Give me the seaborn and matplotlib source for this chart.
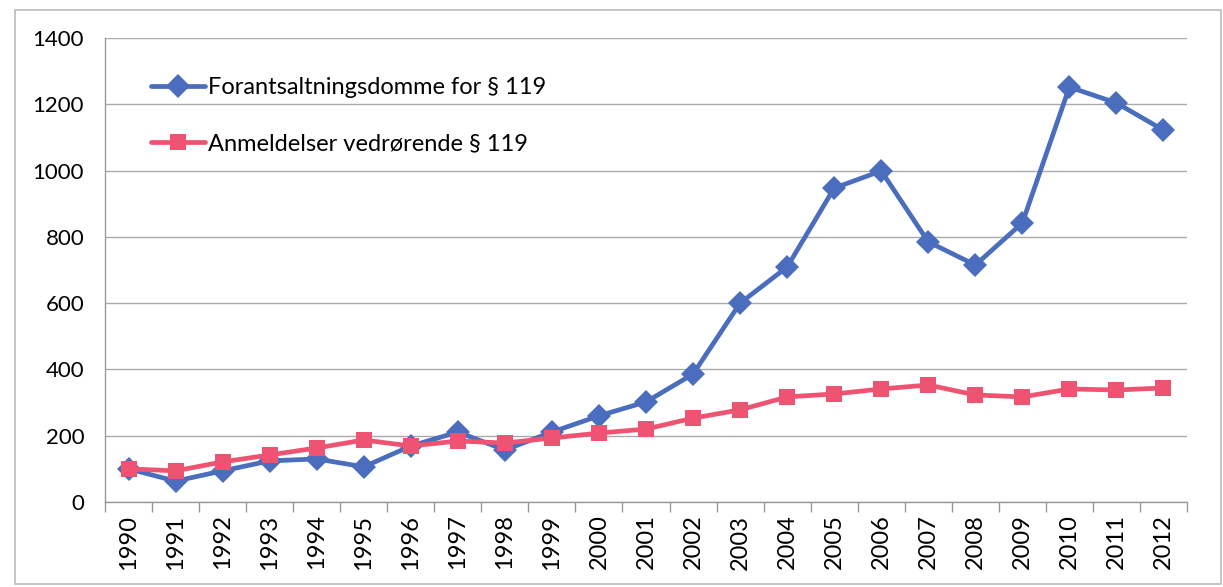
import numpy as np
import pandas as pd
import matplotlib
matplotlib.use("Agg")
import matplotlib.pyplot as plt
from matplotlib.patches import Rectangle
from matplotlib.ticker import FixedLocator
import seaborn as sns

years = [str(y) for y in range(1990, 2013)]
dommer = [100, 63, 94, 124, 130, 106, 169, 211, 157, 211, 260, 302, 386,
          600, 709, 947, 999, 785, 715, 842, 1252, 1204, 1122]
anmeldelser = [100, 94, 121, 142, 163, 187, 169, 184, 178, 193, 208, 220, 253,
               278, 317, 326, 341, 353, 323, 317, 341, 338, 344]
label_dom = "Forantsaltningsdomme for § 119"
label_anm = "Anmeldelser vedrørende § 119"

BLUE = "#4A6DBE"
RED = "#EE5472"

sns.set_theme(style="white")
plt.rcParams["font.family"] = ["Lato", "DejaVu Sans"]
plt.rcParams["text.color"] = "black"
plt.rcParams["xtick.color"] = "black"
plt.rcParams["ytick.color"] = "black"

df = pd.DataFrame({
    "pos": list(range(len(years))) * 2,
    "value": dommer + anmeldelser,
    "serie": [label_dom] * len(years) + [label_anm] * len(years),
})

fig = plt.figure(figsize=(12.23, 5.87), dpi=100)
ax = fig.add_axes([105 / 1223, 1 - 502 / 587, (1187 - 105) / 1223, (502 - 38) / 587])

sns.lineplot(data=df, x="pos", y="value", hue="serie", style="serie",
             palette={label_dom: BLUE, label_anm: RED},
             markers={label_dom: "D", label_anm: "s"},
             dashes=False, linewidth=3.4, markersize=12, markeredgewidth=0,
             ax=ax)

ax.set_xlim(-0.5, len(years) - 0.5)
ax.set_ylim(0, 1400)
ax.set_yticks(range(0, 1401, 200))
ax.set_xticks(range(len(years)))
ax.set_xticklabels(years, rotation=90, fontsize=17)
ax.tick_params(axis="y", labelsize=16, length=5, color="#999999", pad=10)
ax.tick_params(axis="x", which="major", length=0, pad=9)
ax.xaxis.set_minor_locator(FixedLocator(np.arange(-0.5, len(years), 1)))
ax.tick_params(axis="x", which="minor", length=7, color="#999999", bottom=True)
ax.set_xlabel("")
ax.set_ylabel("")
ax.yaxis.grid(True, color="#AAAAAA", linewidth=1)
for side in ["top", "right"]:
    ax.spines[side].set_visible(False)
for side in ["left", "bottom"]:
    ax.spines[side].set_color("#999999")
    ax.spines[side].set_linewidth(1)

leg = ax.legend(loc="upper left", bbox_to_anchor=(0.023, 0.962), frameon=False,
                fontsize=17, handlelength=2.3, handletextpad=0.1, labelspacing=1.5)
for h in leg.legend_handles:
    h.set_linewidth(3.4)
    h.set_markersize(12)

fig.patches.append(Rectangle((15 / 1223, 0.005), 1 - 17 / 1223, 1 - 10 / 587 - 0.005,
                             transform=fig.transFigure, fill=False,
                             edgecolor="#BBBBBB", linewidth=1.2))

fig.savefig("out.png", dpi=100)
